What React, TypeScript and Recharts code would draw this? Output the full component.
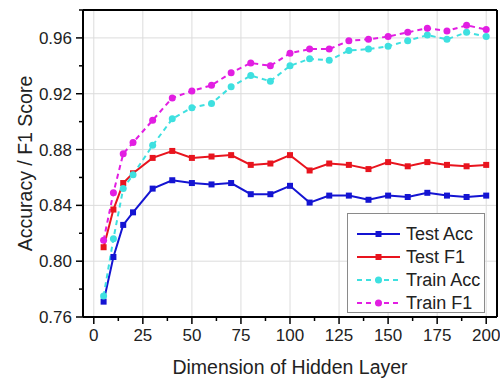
import React from "react";
import {
  CartesianGrid,
  Legend,
  Line,
  LineChart,
  ReferenceLine,
  XAxis,
  YAxis
} from "recharts";

const dims = [5, 10, 15, 20, 30, 40, 50, 60, 70, 80, 90, 100, 110, 120, 130, 140, 150, 160, 170, 180, 190, 200];
const testAcc = [0.771, 0.803, 0.826, 0.835, 0.852, 0.858, 0.856, 0.855, 0.856, 0.848, 0.848, 0.854, 0.842, 0.847, 0.847, 0.844, 0.847, 0.846, 0.849, 0.847, 0.846, 0.847];
const testF1 = [0.81, 0.837, 0.856, 0.863, 0.874, 0.879, 0.874, 0.875, 0.876, 0.869, 0.87, 0.876, 0.865, 0.87, 0.869, 0.866, 0.871, 0.868, 0.871, 0.869, 0.868, 0.869];
const trainAcc = [0.775, 0.816, 0.852, 0.862, 0.883, 0.902, 0.91, 0.913, 0.925, 0.933, 0.929, 0.94, 0.945, 0.944, 0.951, 0.952, 0.954, 0.958, 0.962, 0.959, 0.964, 0.961];
const trainF1 = [0.815, 0.849, 0.877, 0.885, 0.901, 0.917, 0.922, 0.926, 0.935, 0.942, 0.94, 0.949, 0.952, 0.952, 0.958, 0.959, 0.961, 0.964, 0.967, 0.965, 0.969, 0.966];

const xMajor = [0, 25, 50, 75, 100, 125, 150, 175, 200];
const xTicks = [0, 12.5, 25, 37.5, 50, 62.5, 75, 87.5, 100, 112.5, 125, 137.5, 150, 162.5, 175, 187.5, 200];
const yMajor = [0.76, 0.8, 0.84, 0.88, 0.92, 0.96];
const yTicks = [0.76, 0.78, 0.8, 0.82, 0.84, 0.86, 0.88, 0.9, 0.92, 0.94, 0.96, 0.98];

const data = dims.map((d, i) => ({
  dim: d,
  testAcc: testAcc[i],
  testF1: testF1[i],
  trainAcc: trainAcc[i],
  trainF1: trainF1[i]
}));

const FONT = "'Liberation Sans', Arial, sans-serif";
const X_MIN = -5.5;
const X_MAX = 205.5;
const series = [
  { key: "testAcc", name: "Test Acc", color: "#1414d2", dashed: false, square: true },
  { key: "testF1", name: "Test F1", color: "#e8141e", dashed: false, square: true },
  { key: "trainAcc", name: "Train Acc", color: "#3ee0e0", dashed: true, square: false },
  { key: "trainF1", name: "Train F1", color: "#e21ee2", dashed: true, square: false }
];

const XTick = (props: any) => {
  const { x, y, payload } = props;
  const major = xMajor.includes(payload.value);
  return (
    <g>
      <line x1={x} x2={x} y1={y} y2={y + (major ? 7 : 4)} stroke="#000" strokeWidth={1.5} />
      {major && (
        <text x={x} y={y + 24} textAnchor="middle" fontSize={17} fill="#222" fontFamily={FONT}>
          {payload.value}
        </text>
      )}
    </g>
  );
};

const YTick = (props: any) => {
  const { x, y, payload } = props;
  const major = yMajor.some((v) => Math.abs(v - payload.value) < 1e-9);
  return (
    <g>
      <line x1={x} x2={x - (major ? 7 : 4)} y1={y} y2={y} stroke="#000" strokeWidth={1.5} />
      {major && (
        <text x={x - 11} y={y + 6} textAnchor="end" fontSize={17} fill="#222" fontFamily={FONT}>
          {payload.value.toFixed(2)}
        </text>
      )}
    </g>
  );
};

const SquareDot = (props: any) => {
  const { cx, cy, stroke, index, dataKey } = props;
  if (cx == null || cy == null) return null;
  return <rect key={`${dataKey}-${index}`} x={cx - 3} y={cy - 3} width={6} height={6} fill={stroke} />;
};

const LegendBox = () => (
  <svg width={138} height={100}>
    <rect x={0.5} y={0.5} width={137} height={99} fill="#fff" stroke="#8a8a8a" strokeWidth={1} />
    {series.map((s, i) => {
      const cy = 21 + i * 23;
      return (
        <g key={s.key}>
          <line
            x1={10}
            x2={53}
            y1={cy}
            y2={cy}
            stroke={s.color}
            strokeWidth={2}
            strokeDasharray={s.dashed ? "5 4" : undefined}
          />
          {s.square ? (
            <rect x={28.5} y={cy - 3} width={6} height={6} fill={s.color} />
          ) : (
            <circle cx={31.5} cy={cy} r={3.5} fill={s.color} />
          )}
          <text x={59} y={cy + 6} fontSize={18} fill="#222" fontFamily={FONT}>
            {s.name}
          </text>
        </g>
      );
    })}
  </svg>
);

export default function App() {
  return (
    <div style={{ position: "absolute", left: 0, top: 0, background: "#fff", fontFamily: FONT }}>
      <LineChart width={500} height={380} data={data} margin={{ top: 10, right: 3, bottom: 0, left: 0 }}>
        <CartesianGrid
          stroke="#dcdcdc"
          strokeWidth={1}
          horizontalValues={yMajor}
          verticalValues={xMajor}
        />
        <XAxis
          dataKey="dim"
          type="number"
          domain={[X_MIN, X_MAX]}
          ticks={xTicks}
          interval={0}
          allowDataOverflow
          height={63}
          tickSize={0}
          tickMargin={0}
          tickLine={false}
          tick={<XTick />}
          axisLine={{ stroke: "#000", strokeWidth: 2 }}
          label={{
            value: "Dimension of Hidden Layer",
            position: "insideBottom",
            offset: 6,
            fontSize: 19.5,
            fill: "#222",
            fontFamily: FONT
          }}
        />
        <YAxis
          type="number"
          domain={[0.76, 0.98]}
          ticks={yTicks}
          interval={0}
          allowDataOverflow
          width={83}
          tickSize={0}
          tickMargin={0}
          tickLine={false}
          tick={<YTick />}
          axisLine={{ stroke: "#000", strokeWidth: 2 }}
          label={{
            value: "Accuracy / F1 Score",
            angle: -90,
            position: "insideLeft",
            offset: 25,
            fontSize: 19.5,
            fill: "#222",
            fontFamily: FONT,
            style: { textAnchor: "middle" }
          }}
        />
        {/* box frame on the top and right edges */}
        <ReferenceLine y={0.98} stroke="#000" strokeWidth={2} />
        <ReferenceLine x={X_MAX} stroke="#000" strokeWidth={2} />
        {series.map((s) => (
          <Line
            key={s.key}
            dataKey={s.key}
            name={s.name}
            stroke={s.color}
            strokeWidth={2}
            strokeDasharray={s.dashed ? "5 4" : undefined}
            dot={s.square ? <SquareDot /> : { r: 3.5, fill: s.color, stroke: s.color, strokeWidth: 0 }}
            activeDot={false}
            isAnimationActive={false}
          />
        ))}
        <Legend
          layout="vertical"
          align="center"
          verticalAlign="middle"
          wrapperStyle={{ left: 347, top: 213, width: 138, height: 100 }}
          content={<LegendBox />}
        />
      </LineChart>
    </div>
  );
}
